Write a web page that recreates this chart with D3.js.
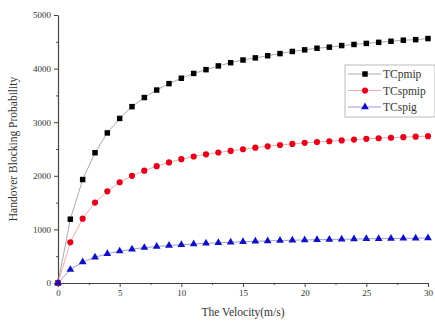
<!DOCTYPE html>
<html>
<head>
<meta charset="utf-8">
<script src="https://cdn.jsdelivr.net/npm/d3@7"></script>
<style>
  html, body { margin: 0; padding: 0; background: #fff; }
  svg { display: block; }
  text { font-family: "Liberation Serif", "Times New Roman", serif; fill: #333; }
</style>
</head>
<body>
<div id="chart"></div>
<script>
// Velocity samples (m/s)
const velocity = d3.range(0, 31);

// Handover blocking values per scheme
const tcPmip = [0, 1190, 1930, 2430, 2800, 3070, 3290, 3460, 3600, 3720, 3820,
  3910, 3980, 4050, 4110, 4160, 4200, 4240, 4280, 4320, 4350,
  4380, 4400, 4430, 4450, 4470, 4490, 4510, 4530, 4540, 4560];
const tcSpmip = [0, 760, 1200, 1500, 1710, 1880, 2000, 2095, 2180, 2250, 2310,
  2360, 2400, 2435, 2465, 2495, 2525, 2550, 2575, 2595, 2615,
  2630, 2645, 2660, 2675, 2690, 2700, 2710, 2720, 2730, 2740];
const tcSpig = [0, 250, 390, 480, 545, 595, 630, 660, 680, 700, 715,
  728, 740, 750, 760, 770, 778, 785, 792, 798, 803,
  808, 812, 816, 820, 824, 827, 830, 833, 836, 840];

const seriesNames = ["TCpmip", "TCspmip", "TCspig"];
const xTicks = [0, 5, 10, 15, 20, 25, 30];
const yTicks = [0, 1000, 2000, 3000, 4000, 5000];

const W = 435, H = 324;
const margin = { left: 58, right: 7, top: 15, bottom: 41 };

const svg = d3.select("#chart").append("svg")
  .attr("width", W).attr("height", H);

const x = d3.scaleLinear().domain([0, 30]).range([margin.left, W - margin.right]);
const y = d3.scaleLinear().domain([0, 5000]).range([H - margin.bottom, margin.top]);

// Minor ticks
const g = svg.append("g");
g.append("g")
  .attr("transform", `translate(0,${y(0)})`)
  .call(d3.axisBottom(x).tickValues(d3.range(2.5, 30, 5)).tickSize(2).tickFormat(""))
  .call(s => s.select(".domain").remove())
  .call(s => s.selectAll("line").attr("stroke", "#555"));
g.append("g")
  .attr("transform", `translate(${x(0)},0)`)
  .call(d3.axisLeft(y).tickValues(d3.range(500, 5000, 1000)).tickSize(2).tickFormat(""))
  .call(s => s.select(".domain").remove())
  .call(s => s.selectAll("line").attr("stroke", "#555"));

// Major axes
const xAxis = g.append("g")
  .attr("transform", `translate(0,${y(0)})`)
  .call(d3.axisBottom(x).tickValues(xTicks).tickFormat(d3.format("d"))
    .tickSize(4).tickPadding(3).tickSizeOuter(0));
const yAxis = g.append("g")
  .attr("transform", `translate(${x(0)},0)`)
  .call(d3.axisLeft(y).tickValues(yTicks).tickFormat(d3.format("d"))
    .tickSize(4).tickPadding(3).tickSizeOuter(0));
[xAxis, yAxis].forEach(a => {
  a.select(".domain").attr("stroke", "#444").attr("stroke-width", 1.2);
  a.selectAll(".tick line").attr("stroke", "#444");
  a.selectAll(".tick text").attr("font-size", 9).attr("fill", "#444")
    .attr("font-family", "Liberation Serif, serif");
});

// Axis titles
svg.append("text")
  .attr("x", (x(0) + x(30)) / 2).attr("y", 316)
  .attr("text-anchor", "middle").attr("font-size", 11.5)
  .text("The Velocity(m/s)");
svg.append("text")
  .attr("transform", `translate(17,${(y(0) + y(5000)) / 2}) rotate(-90)`)
  .attr("text-anchor", "middle").attr("font-size", 11.5)
  .text("Handover Blocking Probability");

const series = [
  { name: seriesNames[0], values: tcPmip, color: "#000", line: "#aaa", shape: d3.symbolSquare, size: 30 },
  { name: seriesNames[1], values: tcSpmip, color: "#e3001b", line: "#f3a9a9", shape: d3.symbolCircle, size: 30 },
  { name: seriesNames[2], values: tcSpig, color: "#1010c0", line: "#9a9ae8", shape: d3.symbolTriangle, size: 26 }
];

const line = d3.line().x((d, i) => x(velocity[i])).y(d => y(d));

// Draw lines first, then markers on top
series.forEach(s => {
  svg.append("path").datum(s.values)
    .attr("d", line).attr("fill", "none")
    .attr("stroke", s.line).attr("stroke-width", 1);
});
series.forEach(s => {
  svg.append("g").selectAll("path").data(s.values).join("path")
    .attr("transform", (d, i) => `translate(${x(velocity[i])},${y(d)})`)
    .attr("d", d3.symbol().type(s.shape).size(s.size))
    .attr("fill", s.color);
});

// Legend
const lg = svg.append("g").attr("transform", "translate(345,65)");
lg.append("rect").attr("width", 90).attr("height", 52)
  .attr("fill", "#fff").attr("stroke", "#bbb").attr("stroke-width", 1);
series.forEach((s, i) => {
  const ry = 9 + i * 16.5;
  lg.append("line").attr("x1", 3).attr("x2", 36).attr("y1", ry).attr("y2", ry)
    .attr("stroke", s.line).attr("stroke-width", 1);
  lg.append("path").attr("transform", `translate(20,${ry})`)
    .attr("d", d3.symbol().type(s.shape).size(s.size)).attr("fill", s.color);
  lg.append("text").attr("x", 38).attr("y", ry + 4)
    .attr("font-size", 11.5).text(s.name);
});
</script>
</body>
</html>
